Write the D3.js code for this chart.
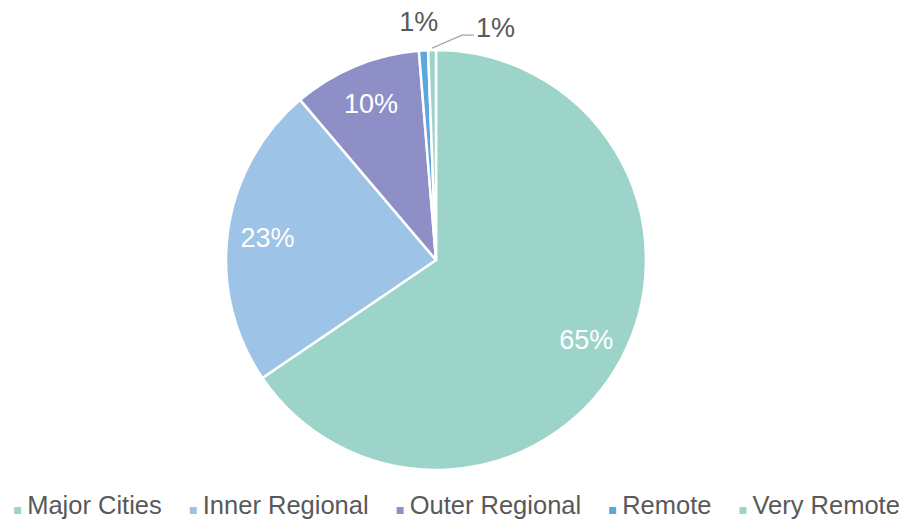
<!DOCTYPE html>
<html>
<head>
<meta charset="utf-8">
<script src="https://cdn.jsdelivr.net/npm/d3@7"></script>
<style>
body { margin: 0; background: #fff; }
text { font-family: "Liberation Sans", Arial, sans-serif; }
</style>
</head>
<body>
<script>
var width = 905, height = 521;

// data (share of total, %)
var categories = ["Major Cities", "Inner Regional", "Outer Regional", "Remote", "Very Remote"];
var values = [65.5, 23.3, 9.9, 0.7, 0.6];
var labels = ["65%", "23%", "10%", "1%", "1%"];
var colors = ["#9dd4c9", "#9dc3e6", "#8e8fc6", "#5ba7de", "#9dd4c9"];

var cx = 436, cy = 260, radius = 210;

var svg = d3.select("body")
            .append("svg")
            .attr("width", width)
            .attr("height", height)

var pie = d3.pie().sort(null).value(function(d){ return d; });
var arcs = pie(values);
var arc = d3.arc().innerRadius(0).outerRadius(radius);
var labelArc = d3.arc().innerRadius(radius*0.81).outerRadius(radius*0.81);

var g = svg.append("g").attr("transform", "translate(" + cx + "," + cy + ")");

g.selectAll("path.slice")
  .data(arcs)
  .enter().append("path")
    .attr("class", "slice")
    .attr("d", arc)
    .attr("fill", function(d,i){ return colors[i]; })
    .attr("stroke", "#fff")
    .attr("stroke-width", 2.5)
    .attr("stroke-linejoin", "round")

// inside labels for big slices
g.selectAll("text.inner")
  .data(arcs.slice(0,3))
  .enter().append("text")
    .attr("class", "inner")
    .attr("transform", function(d){ return "translate(" + labelArc.centroid(d) + ")"; })
    .attr("text-anchor", "middle")
    .attr("dy", "0.36em")
    .attr("fill", "#fff")
    .style("font-size", "27px")
    .text(function(d,i){ return labels[i]; })

// outside labels for the small ones
function mid(d){ return (d.startAngle + d.endAngle)/2; }
var rem = arcs[3], vrem = arcs[4];
var remPos = [Math.sin(mid(rem))*(radius+29) - 3, -Math.cos(mid(rem))*(radius+29)];
g.append("text")
  .attr("x", remPos[0]).attr("y", remPos[1])
  .attr("text-anchor", "middle")
  .attr("dy", "0.36em")
  .attr("fill", "#595959")
  .style("font-size", "27px")
  .text(labels[3])

var p0 = [Math.sin(mid(vrem))*(radius+2), -Math.cos(mid(vrem))*(radius+2)];
var p1 = [p0[0] + 30, p0[1] - 13];
var p2 = [p1[0] + 12, p1[1]];
g.append("polyline")
  .attr("points", [p0, p1, p2].map(function(p){ return p.join(","); }).join(" "))
  .attr("fill", "none")
  .attr("stroke", "#a6a6a6")
  .attr("stroke-width", 1.3)
g.append("text")
  .attr("x", p2[0] + 2).attr("y", p2[1] - 8)
  .attr("dy", "0.36em")
  .attr("fill", "#595959")
  .style("font-size", "27px")
  .text(labels[4])

// legend
var legend = svg.append("g");
var items = legend.selectAll("g.item")
  .data(categories)
  .enter().append("g").attr("class", "item");
items.append("rect")
  .attr("width", 7).attr("height", 7)
  .attr("y", 507)
  .attr("fill", function(d,i){ return colors[i]; })
items.append("text")
  .attr("x", 13).attr("y", 514)
  .attr("fill", "#595959")
  .style("font-size", "25.5px")
  .text(function(d){ return d; })

var x = 0, gap = 28;
items.each(function(){
  var w = d3.select(this).select("text").node().getComputedTextLength();
  d3.select(this).attr("transform", "translate(" + x + ",0)");
  x += 13 + w + gap;
});
var total = x - gap;
legend.attr("transform", "translate(" + (457 - total/2) + ",0)");
</script>
</body>
</html>
